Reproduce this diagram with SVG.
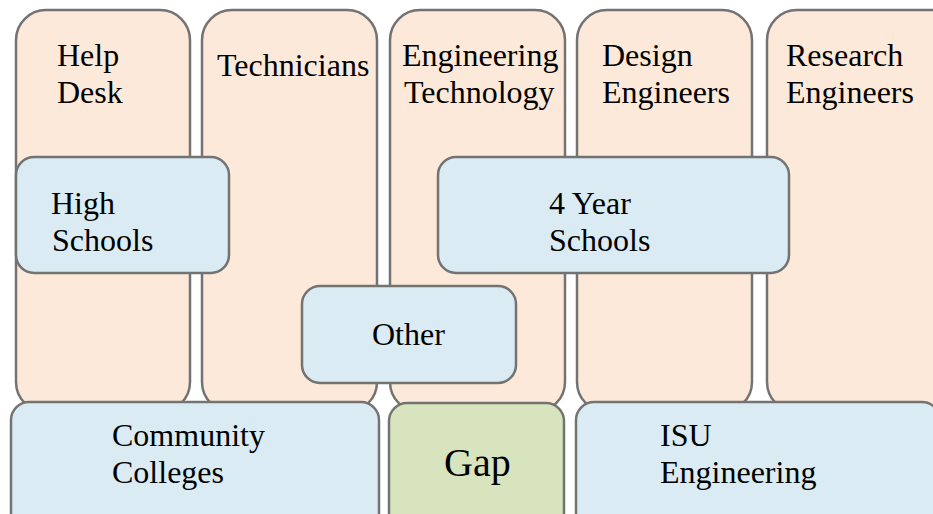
<svg xmlns="http://www.w3.org/2000/svg" width="933" height="514" viewBox="0 0 933 514">
<style>
.col{fill:#FDE9D9;stroke:#737373;stroke-width:2.5}
.blue{fill:#DAEBF3;stroke:#737373;stroke-width:2.5}
.green{fill:#D7E4BD;stroke:#737373;stroke-width:2.5}
</style>
<rect width="933" height="514" fill="#fff"/>
<g font-family="Liberation Serif, Times New Roman, serif" font-size="32" fill="#000">
<g id="help-desk"><rect class="col" x="16" y="10" width="174" height="402" rx="30"/><text x="57" y="66">Help</text><text x="57" y="103">Desk</text></g>
<g id="technicians"><rect class="col" x="202" y="10" width="175" height="402" rx="30"/><text x="217" y="76">Technicians</text></g>
<g id="engineering-technology"><rect class="col" x="390" y="10" width="175" height="402" rx="30"/><text x="402" y="66">Engineering</text><text x="404" y="103">Technology</text></g>
<g id="design-engineers"><rect class="col" x="577" y="10" width="175" height="402" rx="30"/><text x="602" y="66">Design</text><text x="602" y="103">Engineers</text></g>
<g id="research-engineers"><rect class="col" x="767" y="10" width="200" height="402" rx="30"/><text x="786" y="66">Research</text><text x="786" y="103">Engineers</text></g>
<g id="high-schools"><rect class="blue" x="16" y="157" width="213" height="116" rx="18"/><text x="51" y="214">High</text><text x="52" y="251">Schools</text></g>
<g id="four-year-schools"><rect class="blue" x="438" y="157" width="351" height="116" rx="18"/><text x="549" y="214">4 Year</text><text x="549" y="251">Schools</text></g>
<g id="other"><rect class="blue" x="302" y="286" width="214" height="97" rx="18"/><text x="372" y="345">Other</text></g>
<g id="community-colleges"><rect class="blue" x="11" y="402" width="368" height="130" rx="18"/><text x="112" y="446">Community</text><text x="112" y="483">Colleges</text></g>
<g id="gap"><rect class="green" x="389" y="403" width="175" height="130" rx="18"/><text x="444" y="476" font-size="40">Gap</text></g>
<g id="isu-engineering"><rect class="blue" x="576" y="402" width="364" height="130" rx="18"/><text x="660" y="446">ISU</text><text x="660" y="483">Engineering</text></g>
</g>
<g id="connectors"/>
</svg>
